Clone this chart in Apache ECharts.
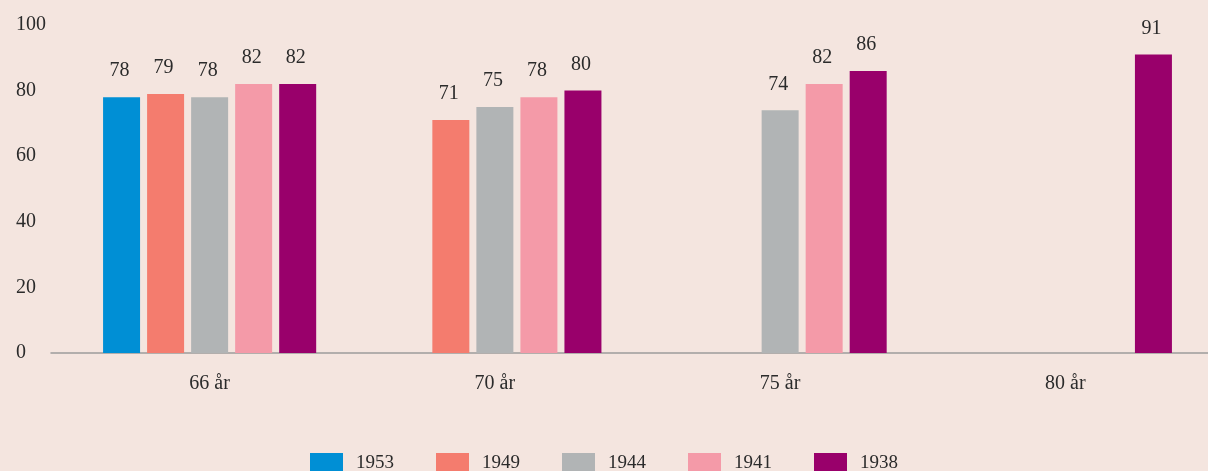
<!DOCTYPE html>
<html>
<head>
<meta charset="utf-8">
<script src="https://cdn.jsdelivr.net/npm/echarts@6/dist/echarts.min.js"></script>
<style>
  html, body { margin: 0; padding: 0; background: #f4e5df; }
  #chart { width: 1208px; height: 471px; }
</style>
</head>
<body>
<div id="chart"></div>
<script>
// kategorier och serier
const categories = ['66 år', '70 år', '75 år', '80 år']
const seriesNames = ['1953', '1949', '1944', '1941', '1938']
const v1953 = [78, null, null, null]
const v1949 = [79, 71, null, null]
const v1944 = [78, 75, 74, null]
const v1941 = [82, 78, 82, null]
const v1938 = [82, 80, 86, 91]
const yTicks = [0, 20, 40, 60, 80, 100]

const colors = ['#008fd5', '#f47c6e', '#b1b4b5', '#f49aa8', '#99006b']
const values = [v1953, v1949, v1944, v1941, v1938]
const font = '"Liberation Serif", "DejaVu Serif", serif'
const textColor = '#2b2b2b'

const chart = echarts.init(document.getElementById('chart'))

chart.setOption({
  backgroundColor: '#f4e5df',
  animation: false,
  textStyle: { fontFamily: font },
  grid: [
    { left: 67, right: -6, top: 25, bottom: 118 },
    // bara för axellinjen som går ut till vänster
    { left: 51, right: 0, top: 25, bottom: 118 }
  ],
  legend: {
    bottom: -7,
    left: 'center',
    itemWidth: 33,
    itemHeight: 20,
    itemGap: 42,
    icon: 'rect',
    data: seriesNames,
    textStyle: { fontFamily: font, fontSize: 19, color: textColor, padding: [4, 0, 0, 8] }
  },
  xAxis: [
    {
      type: 'category',
      data: categories,
      axisLine: { show: false },
      axisTick: { show: false },
      axisLabel: { margin: 21, fontSize: 20, color: textColor, fontFamily: font }
    },
    {
      gridIndex: 1,
      type: 'value',
      min: 0,
      max: 1,
      position: 'bottom',
      axisLine: { show: true, onZero: false, lineStyle: { color: '#9c9c9c', width: 1.5 } },
      axisTick: { show: false },
      axisLabel: { show: false },
      splitLine: { show: false }
    }
  ],
  yAxis: [
    {
      type: 'value',
      min: yTicks[0],
      max: yTicks[yTicks.length - 1],
      interval: 20,
      axisLine: { show: false },
      axisTick: { show: false },
      splitLine: { show: false },
      axisLabel: {
        align: 'left',
        margin: 51,
        fontSize: 20,
        color: textColor,
        fontFamily: font,
        padding: [0, 0, 6, 0]
      }
    },
    { gridIndex: 1, type: 'value', show: false, min: 0, max: 1 }
  ],
  series: seriesNames.map((name, i) => ({
    name: name,
    type: 'bar',
    data: values[i],
    barWidth: 37,
    barGap: '19%',
    itemStyle: { color: colors[i] },
    label: {
      show: true,
      position: 'top',
      distance: 16,
      offset: [-2, 0],
      fontSize: 20,
      color: textColor,
      fontFamily: font
    }
  }))
})
</script>
</body>
</html>
